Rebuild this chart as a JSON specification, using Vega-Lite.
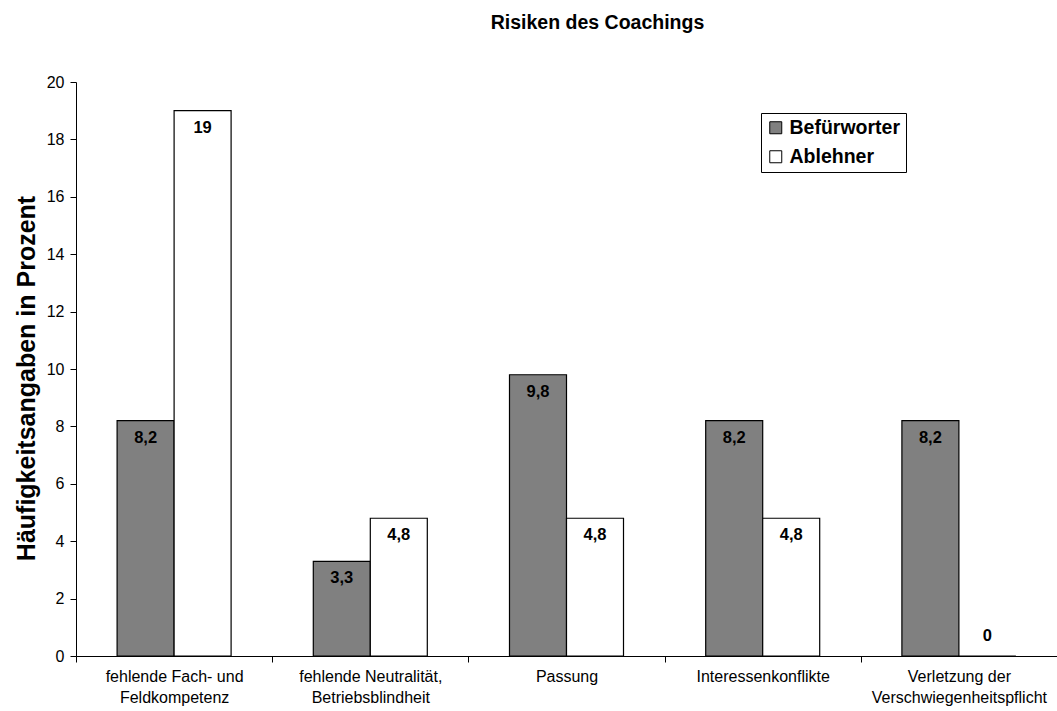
{
  "$schema": "https://vega.github.io/schema/vega-lite/v6.json",
  "autosize": "none",
  "width": 981,
  "height": 574,
  "padding": {"left": 76, "top": 82, "right": 0, "bottom": 55},
  "background": "white",
  "title": {
    "text": "Risiken des Coachings",
    "anchor": "middle",
    "dx": 31,
    "offset": 41,
    "fontSize": 19.5,
    "fontWeight": "bold",
    "font": "Liberation Sans",
    "color": "black"
  },
  "config": {
    "locale": {"number": {"decimal": ",", "thousands": ".", "grouping": [3], "currency": ["", " €"]}},
    "view": {"stroke": null},
    "font": "Liberation Sans"
  },
  "data": {
    "values": [
      {"risiko": "fehlende Fach- und\nFeldkompetenz", "gruppe": "Befürworter", "prozent": 8.2},
      {"risiko": "fehlende Fach- und\nFeldkompetenz", "gruppe": "Ablehner", "prozent": 19},
      {"risiko": "fehlende Neutralität,\nBetriebsblindheit", "gruppe": "Befürworter", "prozent": 3.3},
      {"risiko": "fehlende Neutralität,\nBetriebsblindheit", "gruppe": "Ablehner", "prozent": 4.8},
      {"risiko": "Passung", "gruppe": "Befürworter", "prozent": 9.8},
      {"risiko": "Passung", "gruppe": "Ablehner", "prozent": 4.8},
      {"risiko": "Interessenkonflikte", "gruppe": "Befürworter", "prozent": 8.2},
      {"risiko": "Interessenkonflikte", "gruppe": "Ablehner", "prozent": 4.8},
      {"risiko": "Verletzung der\nVerschwiegenheitspflicht", "gruppe": "Befürworter", "prozent": 8.2},
      {"risiko": "Verletzung der\nVerschwiegenheitspflicht", "gruppe": "Ablehner", "prozent": 0}
    ]
  },
  "encoding": {
    "x": {
      "field": "risiko",
      "type": "nominal",
      "sort": null,
      "scale": {"paddingInner": 0, "paddingOuter": 0},
      "axis": {
        "title": null,
        "labelAngle": 0,
        "labelExpr": "datum.value ? split(datum.value, '\\n') : ''",
        "labelFontSize": 16,
        "labelColor": "black",
        "labelLineHeight": 21,
        "labelPadding": 6,
        "labelBaseline": "top",
        "tickBand": "extent",
        "tickSize": 6,
        "tickColor": "black",
        "domainColor": "black",
        "labelFont": "Liberation Sans"
      }
    },
    "xOffset": {
      "field": "gruppe",
      "type": "nominal",
      "sort": ["Befürworter", "Ablehner"],
      "scale": {"paddingInner": 0, "paddingOuter": 0.721}
    },
    "y": {
      "field": "prozent",
      "type": "quantitative",
      "scale": {"domain": [0, 20], "nice": false},
      "axis": {
        "title": "Häufigkeitsangaben in Prozent",
        "titleFontSize": 25,
        "titleFontWeight": "bold",
        "titleColor": "black",
        "titleAngle": -90,
        "titleAlign": "center",
        "titleBaseline": "middle",
        "titleX": -50,
        "titleY": 296,
        "values": [0, 2, 4, 6, 8, 10, 12, 14, 16, 18, 20],
        "grid": false,
        "tickSize": 6,
        "tickColor": "black",
        "domainColor": "black",
        "labelFontSize": 16,
        "labelColor": "black",
        "labelPadding": 6,
        "labelFont": "Liberation Sans"
      }
    }
  },
  "layer": [
    {
      "mark": {"type": "bar", "stroke": "black", "strokeWidth": 1.2},
      "encoding": {
        "fill": {
          "field": "gruppe",
          "type": "nominal",
          "sort": ["Befürworter", "Ablehner"],
          "scale": {"domain": ["Befürworter", "Ablehner"], "range": ["#808080", "#ffffff"]},
          "legend": {
            "title": null,
            "orient": "none",
            "legendX": 685,
            "legendY": 31,
            "padding": 5,
            "strokeColor": "black",
            "fillColor": "white",
            "symbolType": "square",
            "symbolSize": 144,
            "symbolStrokeColor": "black",
            "symbolStrokeWidth": 1,
            "labelFontSize": 19.5,
            "labelFontWeight": "bold",
            "labelColor": "black",
            "labelOffset": 4,
            "rowPadding": 8,
            "labelFont": "Liberation Sans"
          }
        }
      }
    },
    {
      "transform": [{"filter": "datum.prozent > 0"}],
      "mark": {"type": "text", "baseline": "middle", "dy": 17, "fontSize": 16.5, "fontWeight": "bold", "color": "black"},
      "encoding": {"text": {"field": "prozent", "type": "quantitative", "format": "~g"}}
    },
    {
      "transform": [{"filter": "datum.prozent == 0"}],
      "mark": {"type": "text", "baseline": "middle", "dy": -20, "fontSize": 16.5, "fontWeight": "bold", "color": "black"},
      "encoding": {"text": {"field": "prozent", "type": "quantitative", "format": "~g"}}
    }
  ]
}
